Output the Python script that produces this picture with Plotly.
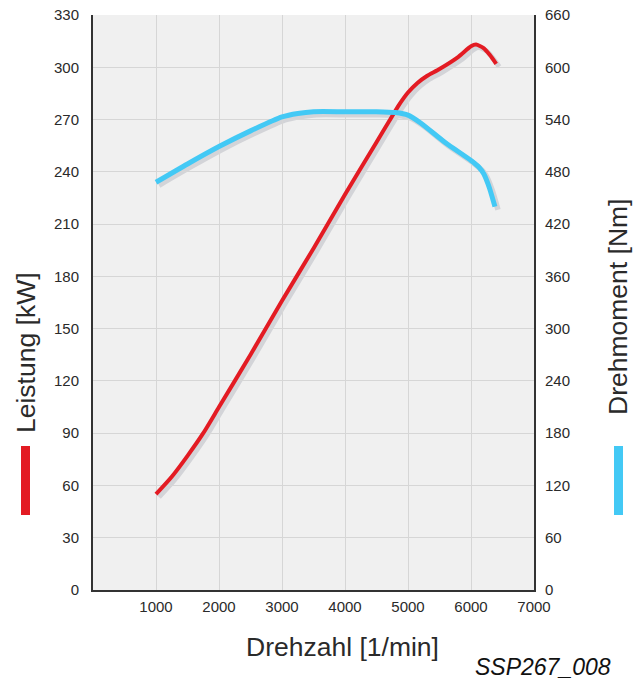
import plotly.graph_objects as go

# ---- data ----
power_rpm = [1000, 1250, 1500, 1750, 2000, 2500, 3000, 3500, 4000, 4500, 4700,
             4850, 5000, 5150, 5300, 5500, 5800, 6000, 6080, 6200, 6300, 6400]
power_kw = [55, 65, 77, 90, 105, 135, 166, 196, 227, 257, 269,
            278, 285.5, 291, 295, 299, 306, 312, 313, 311, 307, 302]

torque_rpm = [1000, 1500, 2000, 2500, 3000, 3250, 3500, 4000, 4500, 4800, 5000,
              5200, 5600, 6000, 6130, 6200, 6290, 6380]
torque_nm = [468, 489, 509, 527, 543, 547, 549, 549, 549, 548, 545,
             536, 513, 493, 485, 478, 462, 440]

x_ticks = [1000, 2000, 3000, 4000, 5000, 6000, 7000]
kw_ticks = list(range(0, 331, 30))
nm_ticks = list(range(0, 661, 60))

# ---- styling ----
W, H = 638, 681
REF_L, REF_T, REF_R, REF_B = 93, 15, 537, 593   # plot area in window pixels
ML, MT = REF_L, REF_T
PW = REF_R - REF_L   # 444
PH = REF_B - REF_T   # 578
MR = W - ML - PW
MB = H - MT - PH
OFF = 3              # shadow offset in px
RED = "#e31b23"
BLUE = "#43c9f5"
SHADOW = "#d3d4d8"
GRID = "#d6d6d6"
AXIS = "#333333"
TXT = "#2a2a2a"
FONT = "Liberation Sans, Arial, sans-serif"

main_x = [0, (PW - OFF) / PW]
main_y = [OFF / PH, 1]
sh_x = [OFF / PW, 1]
sh_y = [0, (PH - OFF) / PH]

fig = go.Figure()

# shadows (base subplot, drawn first)
fig.add_trace(go.Scatter(x=power_rpm, y=power_kw, xaxis="x", yaxis="y", mode="lines",
                         line=dict(color=SHADOW, width=5, shape="spline", smoothing=0.6),
                         hoverinfo="skip", showlegend=False))
fig.add_trace(go.Scatter(x=torque_rpm, y=torque_nm, xaxis="x", yaxis="y2", mode="lines",
                         line=dict(color=SHADOW, width=5.5, shape="spline", smoothing=0.6),
                         hoverinfo="skip", showlegend=False))
# main curves
fig.add_trace(go.Scatter(x=torque_rpm, y=torque_nm, xaxis="x2", yaxis="y4", mode="lines",
                         line=dict(color=BLUE, width=5, shape="spline", smoothing=0.6),
                         name="Drehmoment", showlegend=False))
fig.add_trace(go.Scatter(x=power_rpm, y=power_kw, xaxis="x2", yaxis="y3", mode="lines",
                         line=dict(color=RED, width=4, shape="spline", smoothing=0.6),
                         name="Leistung", showlegend=False))

hidden = dict(visible=False, showgrid=False, zeroline=False, automargin=False)
tick_font = dict(size=15, color=TXT, family=FONT)

fig.update_layout(
    width=W, height=H,
    margin=dict(l=ML, r=MR, t=MT, b=MB, pad=0, autoexpand=False),
    paper_bgcolor="white",
    plot_bgcolor="rgba(0,0,0,0)",
    font=dict(family=FONT, color=TXT),
    xaxis=dict(domain=sh_x, range=[0, 7000], anchor="y", **hidden),
    yaxis=dict(domain=sh_y, range=[0, 330], anchor="x", **hidden),
    yaxis2=dict(overlaying="y", range=[0, 660], anchor="x", side="right", **hidden),
    xaxis2=dict(domain=main_x, range=[0, 7000], anchor="y3", automargin=False,
                tickmode="array", tickvals=x_ticks, ticktext=[str(v) for v in x_ticks],
                showgrid=True, gridcolor=GRID, gridwidth=1, zeroline=False,
                showline=True, linecolor=AXIS, linewidth=2,
                ticks="", ticklabelstandoff=2, tickfont=tick_font,
                ticklabeloverflow="allow"),
    yaxis3=dict(domain=main_y, range=[0, 330], anchor="x2", side="left", automargin=False,
                tickmode="array", tickvals=kw_ticks,
                showgrid=True, gridcolor=GRID, gridwidth=1, zeroline=False,
                showline=True, linecolor=AXIS, linewidth=2,
                ticks="", ticklabelstandoff=9, tickfont=tick_font,
                ticklabeloverflow="allow"),
    yaxis4=dict(overlaying="y3", range=[0, 660], anchor="x2", side="right", automargin=False,
                tickmode="array", tickvals=nm_ticks,
                showgrid=False, zeroline=False,
                showline=True, linecolor=AXIS, linewidth=2,
                ticks="", ticklabelstandoff=6, tickfont=tick_font,
                ticklabeloverflow="allow"),
    showlegend=False,
)

def px_x(px):
    return (px - REF_L) / PW

def px_y(py):
    return (REF_B - py) / PH

# plot background (paper-referenced, below everything)
fig.add_shape(type="rect", xref="paper", yref="paper",
              x0=main_x[0], x1=main_x[1], y0=main_y[0], y1=main_y[1],
              fillcolor="#f0f0f0", line=dict(width=0), layer="below")

# legend colour bars
fig.add_shape(type="rect", xref="paper", yref="paper",
              x0=px_x(21), x1=px_x(30), y0=px_y(515), y1=px_y(446),
              fillcolor=RED, line=dict(width=0))
fig.add_shape(type="rect", xref="paper", yref="paper",
              x0=px_x(614), x1=px_x(623), y0=px_y(515), y1=px_y(446),
              fillcolor=BLUE, line=dict(width=0))

title_font = dict(family=FONT, size=26.5, color=TXT)
fig.add_annotation(text="Drehzahl [1/min]", xref="paper", yref="paper",
                   x=px_x(342), y=px_y(647), xanchor="center", yanchor="middle",
                   showarrow=False, font=title_font)
fig.add_annotation(text="Leistung [kW]", xref="paper", yref="paper",
                   x=px_x(26), y=px_y(353), xanchor="center", yanchor="middle",
                   textangle=-90, showarrow=False, font=title_font)
fig.add_annotation(text="Drehmoment [Nm]", xref="paper", yref="paper",
                   x=px_x(618), y=px_y(307), xanchor="center", yanchor="middle",
                   textangle=-90, showarrow=False, font=title_font)
fig.add_annotation(text="<i>SSP267_008</i>", xref="paper", yref="paper",
                   x=px_x(543), y=px_y(667), xanchor="center", yanchor="middle",
                   showarrow=False, font=dict(family=FONT, size=23, color="#111111"))

fig.write_html("out.html",
               config={"displayModeBar": False},
               post_script="document.body.style.margin='0';document.body.style.overflow='hidden';")
